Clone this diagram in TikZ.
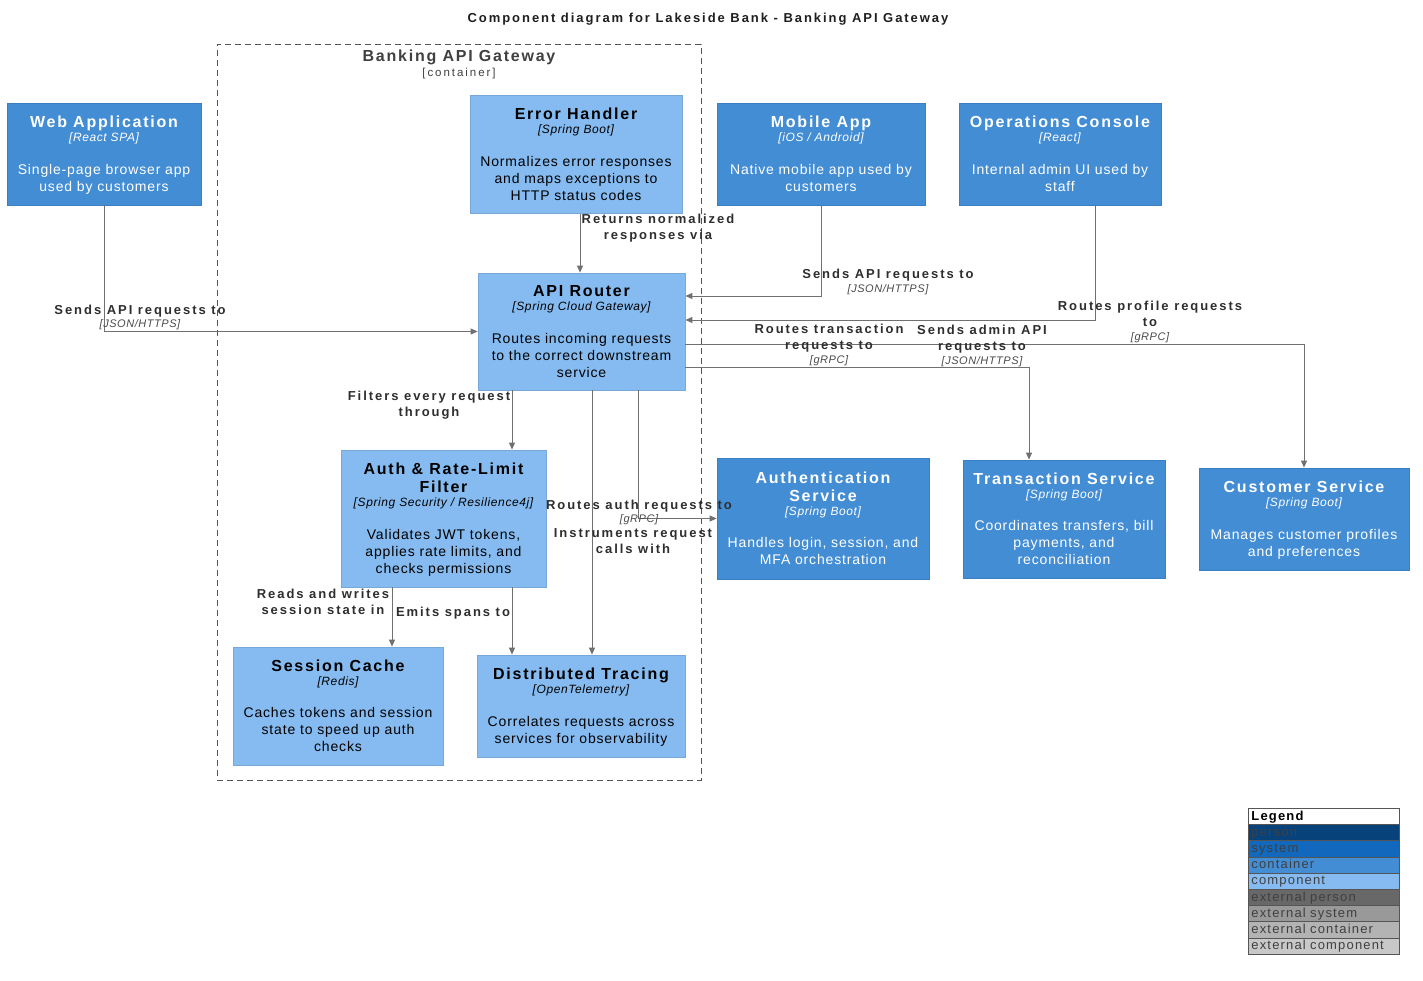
\documentclass[tikz,border=0pt]{standalone}
\usepackage{fontspec}
\setmainfont{Liberation Sans}
\newfontfamily\famT[LetterSpace=11]{Liberation Sans}
\newfontfamily\famH[LetterSpace=15]{Liberation Sans}
\newfontfamily\famL[LetterSpace=15]{Liberation Sans}
\newfontfamily\famD[LetterSpace=6]{Liberation Sans}
\newfontfamily\famK[LetterSpace=5]{Liberation Sans}
\newfontfamily\famG[LetterSpace=9]{Liberation Sans}
\newfontfamily\famC[LetterSpace=17]{Liberation Sans}
\usetikzlibrary{arrows.meta}
\definecolor{ccont}{HTML}{438DD5}
\definecolor{ccontb}{HTML}{3C7FC0}
\definecolor{ccomp}{HTML}{85BBF0}
\definecolor{ccompb}{HTML}{78A8D8}
\definecolor{cline}{HTML}{707070}
\definecolor{clabel}{HTML}{2E2E2E}
\definecolor{ctech}{HTML}{4A4A4A}
\definecolor{cbound}{HTML}{555555}
\definecolor{lgA}{HTML}{08427B}
\definecolor{lgB}{HTML}{1168BD}
\definecolor{lgC}{HTML}{438DD5}
\definecolor{lgD}{HTML}{85BBF0}
\definecolor{lgE}{HTML}{686868}
\definecolor{lgF}{HTML}{999999}
\definecolor{lgG}{HTML}{B3B3B3}
\definecolor{lgH}{HTML}{C8C8C8}
\newcommand\ttl{\famT\bfseries\fontsize{16}{18}\selectfont}
\newcommand\tch{\famK\mdseries\itshape\fontsize{12}{14}\selectfont}
\newcommand\dsc{\famD\fontsize{14}{17}\selectfont}
\newcommand\lbl{\famL\bfseries\fontsize{13}{16}\selectfont}
\newcommand\etch{\famK\mdseries\itshape\fontsize{11}{14}\selectfont\color{ctech}}
\newcommand\tops{\rule{0pt}{14.8pt}}
\newcommand\bots{\rule[-4pt]{0pt}{4pt}}
\tikzset{
  boxbase/.style={rectangle, align=center, inner sep=0pt, font=\dsc, line width=0.8pt},
  contbox/.style={boxbase, fill=ccont, draw=ccontb, text=white},
  compbox/.style={boxbase, fill=ccomp, draw=ccompb, text=black},
  arr/.style={draw=cline, line width=1pt, -{Triangle[length=7pt,width=6pt]}},
  elabel/.style={align=center, inner sep=0pt, font=\lbl, text=clabel},
  lgrow/.style={anchor=north west, rectangle, draw=cbound, line width=0.8pt, minimum width=151pt, minimum height=16.2pt, text width=145pt, text height=9.6pt, text depth=2.6pt, align=left, inner xsep=3pt, inner ysep=0pt, font=\famG\fontsize{13}{15}\selectfont, text=black!75}
}
\begin{document}
\begin{tikzpicture}[x=1pt,y=-1pt]
\useasboundingbox (0,0) rectangle (1423,980);
\fill[white] (0,0) rectangle (1423,980);

\node[font=\famH\bfseries\fontsize{13}{15}\selectfont, text=black!88] (title) at (708,19.5) {Component diagram for Lakeside Bank - Banking API Gateway};

% boundary
\node[draw=cbound, line width=0.9pt, dash pattern=on 6pt off 4pt, minimum width=484pt, minimum height=736pt, inner sep=0pt] (gw) at (459,412) {};
\node[font=\famT\bfseries\fontsize{16}{18}\selectfont, text=black!75] (gwt) at (459,57) {Banking API Gateway};
\node[font=\famC\fontsize{11.5}{13}\selectfont, text=black!75] (gwc) at (459,73.5) {[container]};

% nodes
\node[contbox, minimum width=194pt, minimum height=102pt] (web) at (104,154)
 {\ttl\tops Web Application\\[-3pt]\tch [React SPA]\\[15.6pt]Single-page browser app\\used by customers\bots};
\node[compbox, minimum width=212pt, minimum height=118pt] (err) at (576,154.5)
 {\ttl\tops Error Handler\\[-3pt]\tch [Spring Boot]\\[15.6pt]Normalizes error responses\\and maps exceptions to\\HTTP status codes\bots};
\node[contbox, minimum width=208pt, minimum height=102pt] (mob) at (821,154)
 {\ttl\tops Mobile App\\[-3pt]\tch [iOS / Android]\\[15.6pt]Native mobile app used by\\customers\bots};
\node[contbox, minimum width=202pt, minimum height=102pt] (ops) at (1060,154)
 {\ttl\tops Operations Console\\[-3pt]\tch [React]\\[15.6pt]Internal admin UI used by\\staff\bots};
\node[compbox, minimum width=207pt, minimum height=117pt] (rtr) at (581.5,331.5)
 {\ttl\tops API Router\\[-3pt]\tch [Spring Cloud Gateway]\\[15.6pt]Routes incoming requests\\to the correct downstream\\service\bots};
\node[compbox, minimum width=205pt, minimum height=137pt] (flt) at (443.5,518.5)
 {\ttl\tops Auth \& Rate-Limit\\[1pt]\ttl Filter\\[-3pt]\tch [Spring Security / Resilience4j]\\[15.6pt]Validates JWT tokens,\\applies rate limits, and\\checks permissions\bots};
\node[contbox, minimum width=212pt, minimum height=121pt] (auth) at (823,518.5)
 {\ttl\tops Authentication\\[1pt]\ttl Service\\[-3pt]\tch [Spring Boot]\\[15.6pt]Handles login, session, and\\MFA orchestration\bots};
\node[contbox, minimum width=202pt, minimum height=118pt] (trx) at (1064,519)
 {\ttl\tops Transaction Service\\[-3pt]\tch [Spring Boot]\\[15.6pt]Coordinates transfers, bill\\payments, and\\reconciliation\bots};
\node[contbox, minimum width=210pt, minimum height=102pt] (cus) at (1304,519)
 {\ttl\tops Customer Service\\[-3pt]\tch [Spring Boot]\\[15.6pt]Manages customer profiles\\and preferences\bots};
\node[compbox, minimum width=210pt, minimum height=118pt] (ses) at (338,706)
 {\ttl\tops Session Cache\\[-3pt]\tch [Redis]\\[15.6pt]Caches tokens and session\\state to speed up auth\\checks\bots};
\node[compbox, minimum width=208pt, minimum height=102pt] (trc) at (581,706)
 {\ttl\tops Distributed Tracing\\[-3pt]\tch [OpenTelemetry]\\[15.6pt]Correlates requests across\\services for observability\bots};

% connectors
\draw[arr] (web.south) |- (rtr.west);
\draw[arr] (err.south -| 580,0) -- (rtr.north -| 580,0);
\draw[arr] (mob.south) |- (rtr.east |- 0,296);
\draw[arr] (ops.south -| 1095,0) |- (rtr.east |- 0,320);
\draw[arr] (rtr.east |- 0,344) -| (cus.north);
\draw[arr] (rtr.east |- 0,367) -| (trx.north -| 1029,0);
\draw[arr] (rtr.south -| 512,0) -- (flt.north -| 512,0);
\draw[arr] (rtr.south -| 638,0) |- (auth.west);
\draw[arr] (rtr.south -| 592,0) -- (trc.north -| 592,0);
\draw[arr] (flt.south -| 392,0) -- (ses.north -| 392,0);
\draw[arr] (flt.south -| 512,0) -- (trc.north -| 512,0);

% labels
\node[elabel] (l1) at (140,317.5) {Sends API requests to\\[-2.3pt]\etch [JSON/HTTPS]};
\node[elabel] (l2) at (658,228) {Returns normalized\\responses via};
\node[elabel] (l3) at (888,282) {Sends API requests to\\[-2.3pt]\etch [JSON/HTTPS]};
\node[elabel] (l4) at (982,346) {Sends admin API\\requests to\\[-1.5pt]\etch [JSON/HTTPS]};
\node[elabel] (l5) at (1150,322) {Routes profile requests\\to\\[-1.5pt]\etch [gRPC]};
\node[elabel] (l6) at (829,345) {Routes transaction\\requests to\\[-1.5pt]\etch [gRPC]};
\node[elabel] (l7) at (429,405.5) {Filters every request\\through};
\node[elabel] (l8) at (639,512.5) {Routes auth requests to\\[-2.3pt]\etch [gRPC]};
\node[elabel] (l9) at (633,541.5) {Instruments request\\calls with};
\node[elabel] (l10) at (323,602) {Reads and writes\\session state in};
\node[elabel] (l11) at (453,613.5) {Emits spans to};

% legend
\node[lgrow, fill=white, text=black, font=\famG\bfseries\fontsize{13}{15}\selectfont] (lg0) at (1248,808) {Legend};
\node[lgrow, fill=lgA] (lg1) at (1248,824.2) {person};
\node[lgrow, fill=lgB] (lg2) at (1248,840.4) {system};
\node[lgrow, fill=lgC] (lg3) at (1248,856.6) {container};
\node[lgrow, fill=lgD] (lg4) at (1248,872.8) {component};
\node[lgrow, fill=lgE] (lg5) at (1248,889.0) {external person};
\node[lgrow, fill=lgF] (lg6) at (1248,905.2) {external system};
\node[lgrow, fill=lgG] (lg7) at (1248,921.4) {external container};
\node[lgrow, fill=lgH] (lg8) at (1248,937.6) {external component};
\end{tikzpicture}
\end{document}
